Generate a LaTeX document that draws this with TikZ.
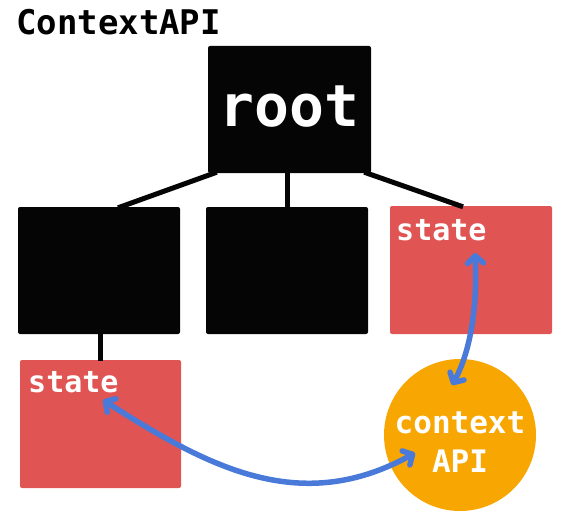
\documentclass[tikz,border=0pt]{standalone}
\usepackage{fontspec}
\setmonofont{DejaVu Sans Mono}
\usetikzlibrary{arrows.meta}
\definecolor{boxred}{HTML}{E05454}
\definecolor{apiorange}{HTML}{F8A602}
\definecolor{arrowblue}{HTML}{4A7AD9}
\definecolor{boxblack}{HTML}{050505}
\tikzset{
  blackbox/.style={fill=boxblack, draw=none, rounded corners=2pt, minimum width=#1, minimum height=127pt, inner sep=0pt},
  redbox/.style={fill=boxred, draw=none, rounded corners=2pt, minimum width=162pt, minimum height=128pt, inner sep=0pt},
  treeline/.style={draw=boxblack, line width=5pt},
  linkarrow/.style={draw=arrowblue, line width=5.5pt, line cap=round,
    {Straight Barb[length=7.5pt,width=16pt,line cap=round,line join=round]}-{Straight Barb[length=7.5pt,width=16pt,line cap=round,line join=round]}},
  whitetext/.style={text=white, font=\ttfamily\bfseries\fontsize{#1}{#1}\selectfont, inner sep=0pt},
}
\begin{document}
\begin{tikzpicture}[x=1pt,y=-1pt]
\useasboundingbox (0,0) rectangle (580,527);
% boxes
\node[blackbox=163pt] (root) at (289.5,109.5) {};
\node[blackbox=162pt] (b1) at (99,270.5) {};
\node[blackbox=162pt] (b2) at (287,270.5) {};
\node[redbox] (r1) at (471,270) {};
\node[redbox, minimum width=161pt] (r2) at (100.5,424) {};
\node[circle, fill=apiorange, draw=none, minimum size=152pt, inner sep=0pt] (api) at (460,435) {};
% tree connectors
\draw[treeline] ([xshift=9pt,yshift=1pt]root.south west) -- ([xshift=19pt,yshift=-1pt]b1.north);
\draw[treeline] ([yshift=-1pt]b2.north) -- ([yshift=1pt]b2.north |- root.south);
\draw[treeline] ([xshift=-7pt,yshift=1pt]root.south east) -- ([xshift=-8pt,yshift=-1pt]r1.north);
\draw[treeline] ([xshift=1pt,yshift=1pt]b1.south) -- ([xshift=1pt,yshift=-1pt]b1.south |- r2.north);
% texts
\node[anchor=base west, inner sep=0pt, font=\ttfamily\bfseries\fontsize{34}{34}\selectfont] (title) at (16,35) {ContextAPI};
\node[whitetext=58, anchor=base] (roottext) at (289.5,126) {root};
\node[whitetext=30, anchor=base west] (s1) at (396,240) {state};
\node[whitetext=30, anchor=base west] (s2) at (28,392) {state};
\node[whitetext=31, align=center, font=\ttfamily\bfseries\fontsize{31}{39}\selectfont] (apitext) at (460,442) {context\\API};
% arrows
\coordinate (a1) at (475,253);
\coordinate (a2) at (452,385);
\coordinate (c1) at (103,400);
\coordinate (c2) at (415,453);
\draw[linkarrow] (a1) .. controls (478,320) and (466,360) .. (a2);
\draw[linkarrow] (c1) .. controls (212,470) and (302,515) .. (c2);
\end{tikzpicture}
\end{document}
